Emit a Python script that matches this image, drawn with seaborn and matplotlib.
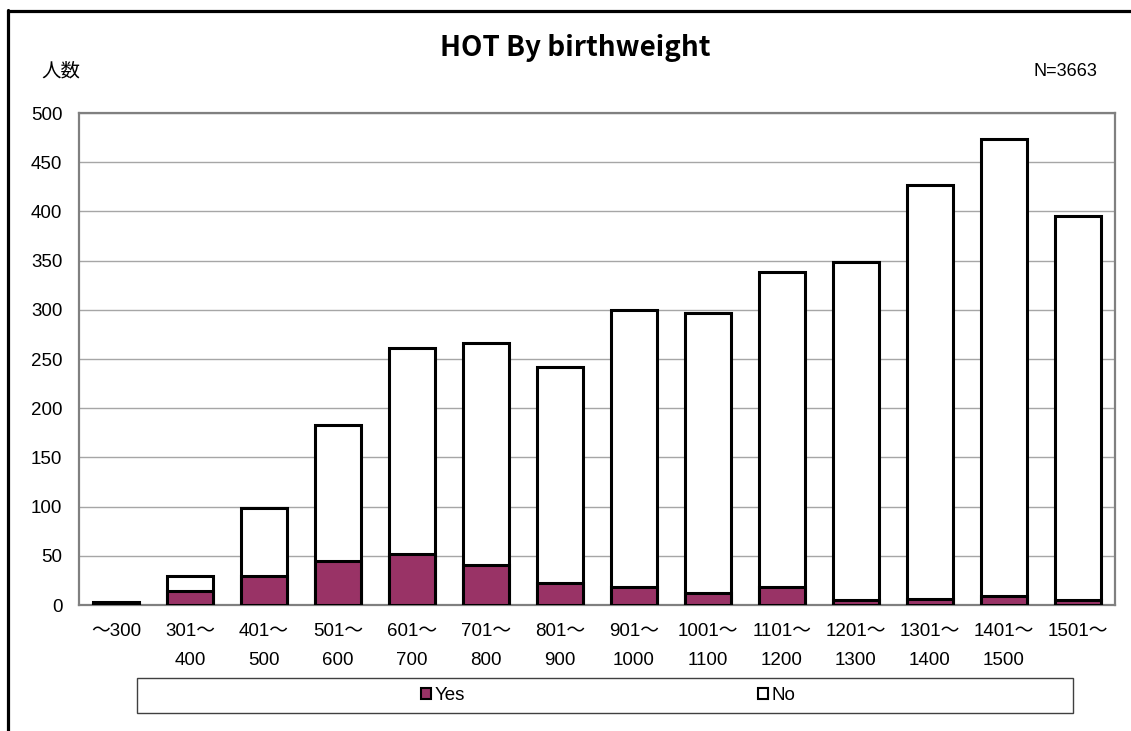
import matplotlib
matplotlib.use("Agg")
import matplotlib.pyplot as plt
from matplotlib.patches import Patch, Rectangle
from matplotlib.lines import Line2D
import numpy as np
import pandas as pd
import seaborn as sns

# Birthweight groups (g) and counts of infants with / without HOT
categories = ["～300", "301～\n400", "401～\n500", "501～\n600", "601～\n700",
              "701～\n800", "801～\n900", "901～\n1000", "1001～\n1100",
              "1101～\n1200", "1201～\n1300", "1301～\n1400", "1401～\n1500",
              "1501～"]
yes_counts = [1, 14, 29, 45, 52, 41, 22, 18, 12, 18, 5, 6, 9, 5]
no_counts = [2, 15, 70, 138, 209, 225, 220, 282, 285, 320, 344, 421, 465, 390]
y_ticks = [0, 50, 100, 150, 200, 250, 300, 350, 400, 450, 500]
n_total = 3663

df = pd.DataFrame({
    "group": categories,
    "yes": yes_counts,
    "no": no_counts,
})
df["total"] = df["yes"] + df["no"]

sns.set_theme(style="white")
plt.rcParams["font.family"] = ["Liberation Sans", "Noto Sans CJK JP", "DejaVu Sans"]
plt.rcParams["text.color"] = "black"

W, H = 1131, 731
fig = plt.figure(figsize=(W / 100, H / 100), dpi=100)
ax = fig.add_axes([79 / W, 1 - 605 / H, (1115 - 79) / W, (605 - 113) / H])

plum = "#993366"
edge_lw = 2.2
bar_w = 0.62

# Stacked bars: full height (white "No" on top), then "Yes" drawn from the base
sns.barplot(data=df, x="group", y="total", order=categories, color="white",
            saturation=1, edgecolor="black", linewidth=edge_lw, width=bar_w,
            errorbar=None, ax=ax, zorder=3)
sns.barplot(data=df, x="group", y="yes", order=categories, color=plum,
            saturation=1, edgecolor="black", linewidth=edge_lw, width=bar_w,
            errorbar=None, ax=ax, zorder=4)

ax.set_xlim(-0.5, len(categories) - 0.5)
ax.set_ylim(0, 500)
ax.set_yticks(y_ticks)
ax.set_xlabel("")
ax.set_ylabel("")

# Grid and frame
ax.yaxis.grid(True, color="#a6a6a6", linewidth=1.0, zorder=0)
ax.xaxis.grid(False)
for side, sp in ax.spines.items():
    sp.set_visible(True)
    sp.set_color("#808080")
    sp.set_linewidth(1.6)

# Ticks
ax.tick_params(axis="y", direction="in", length=5, width=1, color="#555555",
               labelsize=13.5, pad=12, labelcolor="black")
ax.tick_params(axis="x", which="major", length=0, labelsize=13.5, pad=13,
               labelcolor="black")
ax.set_xticks(np.arange(-0.5, len(categories) - 0.5, 1.0)[1:], minor=True)
ax.tick_params(axis="x", which="minor", direction="in", length=5, width=1,
               color="#333333")
ax.set_xticks(range(len(categories)))
ax.set_xticklabels(categories, linespacing=1.9, va="top", multialignment="center")

# Titles and annotations
fig.text(575 / W, 1 - 48 / H, "HOT By birthweight", ha="center", va="center",
         fontsize=20, fontweight="bold", color="black",
         family=["Noto Sans CJK JP", "DejaVu Sans"])
fig.text(41 / W, 1 - 72 / H, "人数", ha="left", va="center", fontsize=14,
         color="black")
fig.text(1097 / W, 1 - 72 / H, f"N={n_total}", ha="right", va="center",
         fontsize=13, color="black")

# Legend inside a wide box
box = Rectangle((137 / W, 1 - 713 / H), (1073 - 137) / W, 35 / H,
                transform=fig.transFigure, facecolor="white",
                edgecolor="#404040", linewidth=1.0)
fig.patches.append(box)
handles = [Patch(facecolor=plum, edgecolor="black", linewidth=1.5, label="Yes"),
           Patch(facecolor="white", edgecolor="black", linewidth=1.5, label="No")]
fig.legend(handles=handles, loc="center", bbox_to_anchor=(608 / W, 1 - 695.5 / H),
           ncol=2, frameon=False, fontsize=13.5, handlelength=0.55,
           handleheight=0.55, handletextpad=0.2, columnspacing=15.6,
           labelcolor="black")

# Outer frame lines along the top and left edges
fig.add_artist(Line2D([8 / W, 1.0], [1 - 10.8 / H, 1 - 10.8 / H],
                      transform=fig.transFigure, color="black", linewidth=2.3))
fig.add_artist(Line2D([8.3 / W, 8.3 / W], [0.0, 1 - 9.5 / H],
                      transform=fig.transFigure, color="black", linewidth=2.3))

fig.savefig("out.png", dpi=100, facecolor="white")
